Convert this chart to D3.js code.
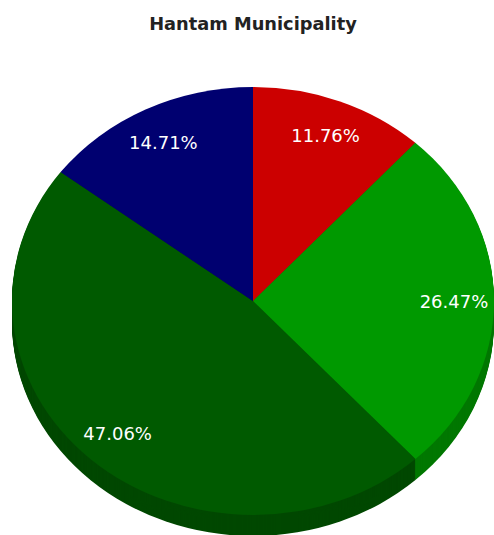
<!DOCTYPE html>
<html>
<head>
<meta charset="utf-8">
<script src="https://cdn.jsdelivr.net/npm/d3@7"></script>
<style>
  html, body { margin: 0; padding: 0; background: #fff; overflow: hidden; }
  svg { display: block; }
</style>
</head>
<body>
<div id="chart"></div>
<script>
const chartTitle = "Hantam Municipality";
const categories = ["A", "B", "C", "D"];
const shares = [11.76, 26.47, 47.06, 14.71];
const topColors = ["#cc0000", "#009900", "#005a00", "#000070"];
const sideColors = ["#990000", "#007800", "#004800", "#000050"];

const w = 494, h = 535;
const cx = 253, cy = 301;
const rx = 241, ry = 214;
const depth = 21;

const svg = d3.select("#chart").append("svg")
  .attr("width", w)
  .attr("height", h);

svg.append("text")
  .attr("x", 253)
  .attr("y", 30)
  .attr("text-anchor", "middle")
  .style("font-family", "'DejaVu Sans', Verdana, sans-serif")
  .style("font-size", "17.8px")
  .style("font-weight", "bold")
  .style("fill", "#222")
  .text(chartTitle);

const slices = d3.pie().sort(null)(shares);
const arc = d3.arc().innerRadius(0).outerRadius(rx);
const labelArc = d3.arc().innerRadius(201).outerRadius(201);

// the side wall is just the pie stacked up from the bottom
for (let d of d3.range(depth, 0, -1)) {
  svg.append("g")
     .attr("transform", `translate(${cx}, ${cy + d}) scale(1, ${ry / rx})`)
     .selectAll("path")
     .data(slices)
     .enter()
     .append("path")
     .attr("fill", (s, i) => sideColors[i])
     .attr("d", arc);
}

svg.append("g")
   .attr("transform", `translate(${cx}, ${cy}) scale(1, ${ry / rx})`)
   .selectAll("path")
   .data(slices)
   .enter()
   .append("path")
   .attr("fill", (s, i) => topColors[i])
   .attr("d", arc);

svg.append("g")
   .selectAll("text")
   .data(slices)
   .enter()
   .append("text")
   .attr("x", s => cx + labelArc.centroid(s)[0])
   .attr("y", s => cy + labelArc.centroid(s)[1] * ry / rx + 7.5)
   .attr("text-anchor", "middle")
   .style("font-family", "'DejaVu Sans', Verdana, sans-serif")
   .style("font-size", "18px")
   .style("fill", "#fff")
   .text(s => s.value.toFixed(2) + "%");
</script>
</body>
</html>
